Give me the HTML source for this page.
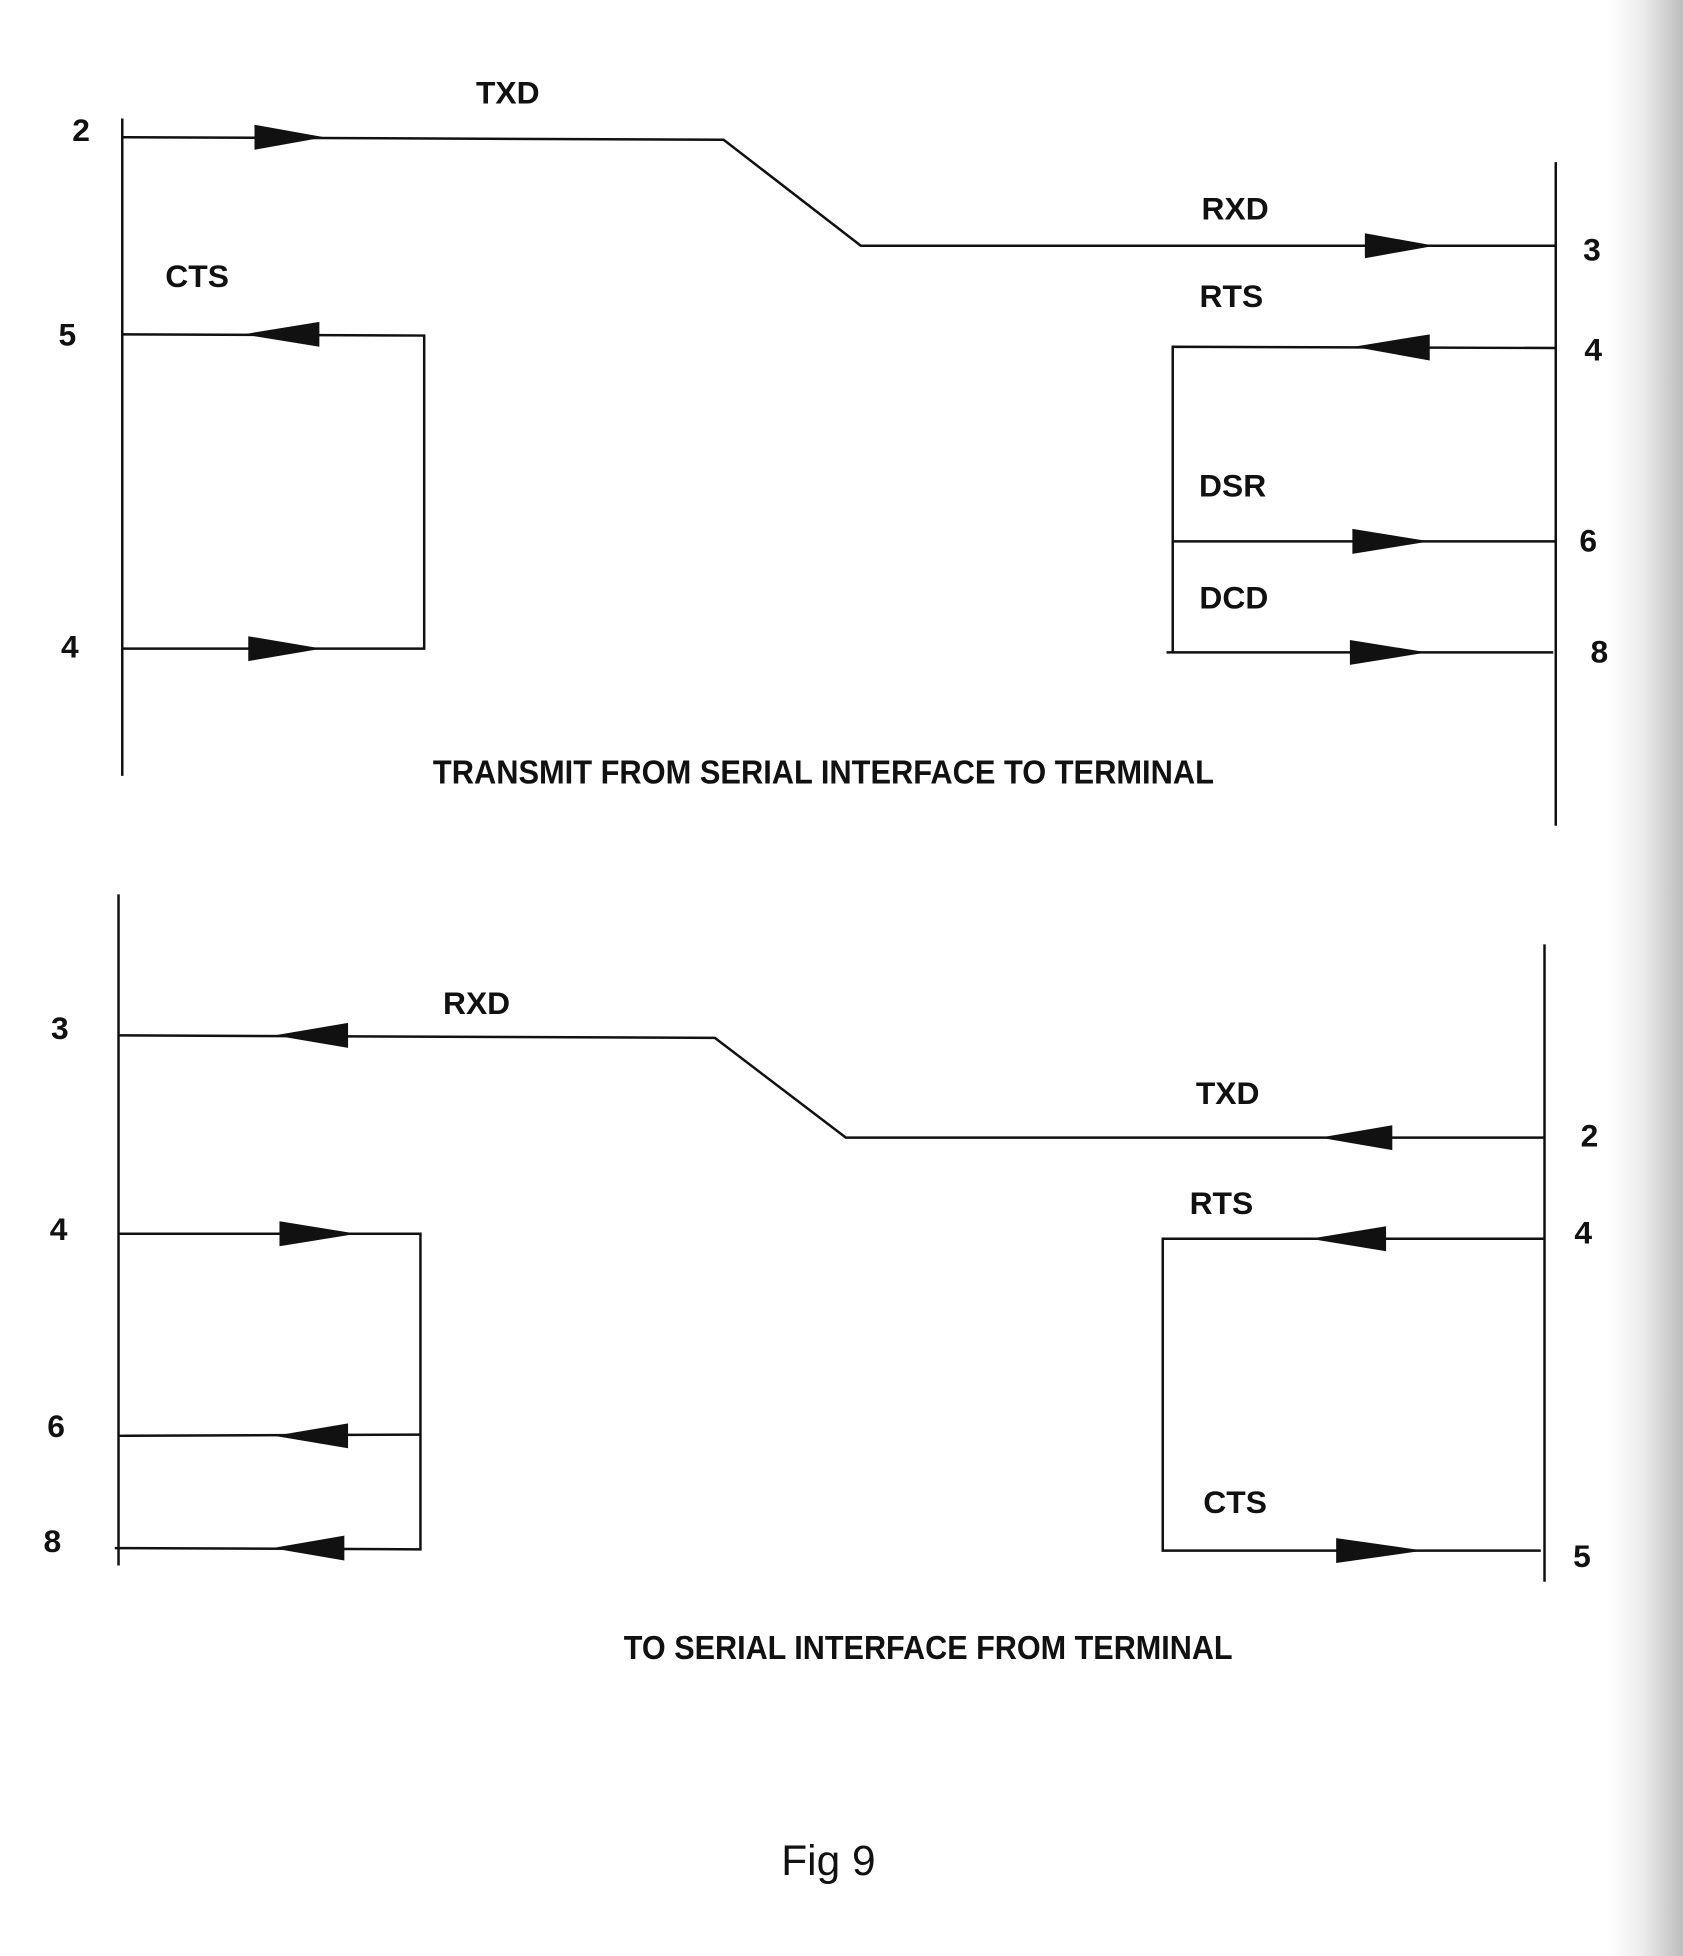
<!DOCTYPE html>
<html><head><meta charset="utf-8"><style>
html,body{margin:0;padding:0;background:#fff}
svg{display:block}
text{font-family:"Liberation Sans",sans-serif;font-weight:bold;fill:#111}
</style></head><body>
<svg width="1683" height="1956" viewBox="0 0 1349 1568" preserveAspectRatio="none" xmlns="http://www.w3.org/2000/svg">
<defs>
<linearGradient id="g" x1="0" x2="1" y1="0" y2="0">
<stop offset="0" stop-color="#fff"/><stop offset="0.45" stop-color="#ececec"/><stop offset="1" stop-color="#bdbdbd"/>
</linearGradient>
</defs>
<rect x="0" y="0" width="1349" height="1568" fill="#fff"/>
<rect x="1290" y="0" width="59" height="1568" fill="url(#g)"/>
<g stroke="#111" stroke-width="2" fill="none">
<line x1="98" y1="95" x2="98" y2="622"/>
<polyline points="98,110 580,112 690,197 1248,197"/>
<line x1="1247" y1="130" x2="1247" y2="662"/>
<polyline points="98,268 340,269 340,520 98,520"/>
<polyline points="1247,279 940,278 940,523"/>
<line x1="940" y1="434" x2="1247" y2="434"/>
<line x1="935" y1="523" x2="1245" y2="523"/>
<line x1="95" y1="717" x2="95" y2="1255"/>
<polyline points="95,830 573,832 678,912 1238,912"/>
<line x1="1238" y1="757" x2="1238" y2="1268"/>
<polyline points="95,989 337,989 337,1242 92,1241"/>
<line x1="95" y1="1151" x2="337" y2="1150"/>
<polyline points="1238,993 932,993 932,1243 1235,1243"/>
</g>
<g fill="#111">
<polygon points="204,100 260,110 204,120"/>
<polygon points="1094,187 1150,197 1094,207"/>
<polygon points="256,258 195,268 256,278"/>
<polygon points="199,510 258,520 199,530"/>
<polygon points="1146,268 1085,278 1146,289"/>
<polygon points="1084,424 1146,434 1084,444"/>
<polygon points="1082,513 1144,523 1082,533"/>
<polygon points="279,820 220,830 279,840"/>
<polygon points="1116,902 1058,912 1116,922"/>
<polygon points="224,979 286,989 224,999"/>
<polygon points="279,1141 220,1151 279,1161"/>
<polygon points="276,1231 218,1241 276,1251"/>
<polygon points="1111,983 1050,993 1111,1003"/>
<polygon points="1071,1233 1141,1243 1071,1253"/>
</g>
<g font-size="25.5">
<text x="407" y="83" text-anchor="middle">TXD</text>
<text x="65" y="113" text-anchor="middle">2</text>
<text x="990" y="176" text-anchor="middle">RXD</text>
<text x="1276" y="209" text-anchor="middle">3</text>
<text x="158" y="230" text-anchor="middle">CTS</text>
<text x="54" y="277" text-anchor="middle">5</text>
<text x="56" y="527" text-anchor="middle">4</text>
<text x="987" y="246" text-anchor="middle">RTS</text>
<text x="1277" y="289" text-anchor="middle">4</text>
<text x="988" y="398" text-anchor="middle">DSR</text>
<text x="1273" y="442" text-anchor="middle">6</text>
<text x="989" y="488" text-anchor="middle">DCD</text>
<text x="1282" y="531" text-anchor="middle">8</text>
<text x="382" y="813" text-anchor="middle">RXD</text>
<text x="48" y="833" text-anchor="middle">3</text>
<text x="984" y="885" text-anchor="middle">TXD</text>
<text x="1274" y="919" text-anchor="middle">2</text>
<text x="47" y="994" text-anchor="middle">4</text>
<text x="45" y="1152" text-anchor="middle">6</text>
<text x="42" y="1244" text-anchor="middle">8</text>
<text x="979" y="973" text-anchor="middle">RTS</text>
<text x="1269" y="997" text-anchor="middle">4</text>
<text x="990" y="1213" text-anchor="middle">CTS</text>
<text x="1268" y="1256" text-anchor="middle">5</text>
<text x="347" y="628" font-size="27" textLength="626" lengthAdjust="spacingAndGlyphs">TRANSMIT FROM SERIAL INTERFACE TO TERMINAL</text>
<text x="500" y="1330" font-size="27" textLength="488" lengthAdjust="spacingAndGlyphs">TO SERIAL INTERFACE FROM TERMINAL</text>
</g>
<text x="664" y="1503" text-anchor="middle" font-size="34" style="font-weight:normal">Fig 9</text>
</svg>
</body></html>
